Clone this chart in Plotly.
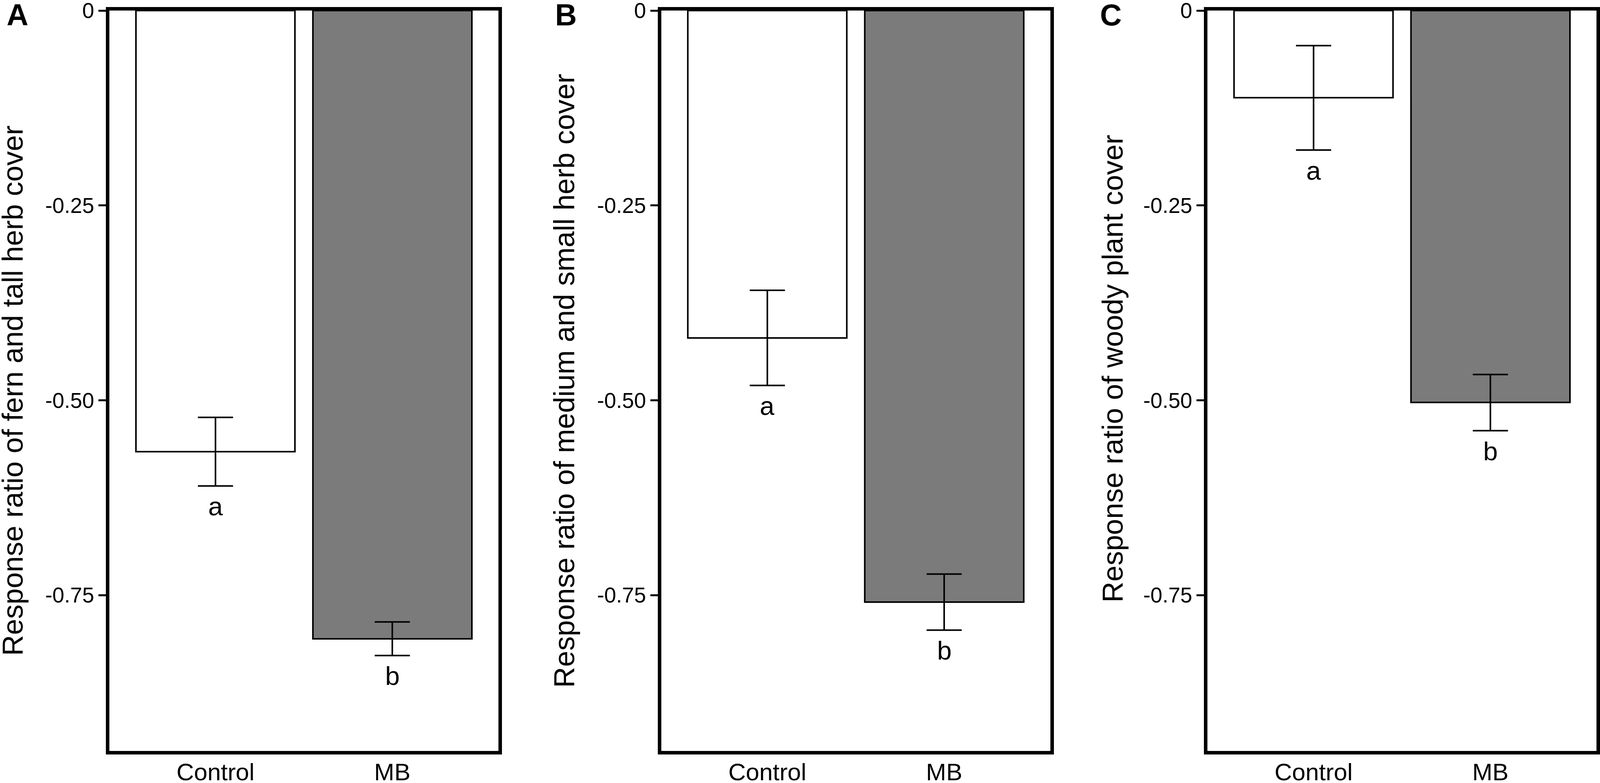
import plotly.graph_objects as go

# data
categories = ["Control", "MB"]
panel_tags = ["A", "B", "C"]
y_titles = [
    "Response ratio of fern and tall herb cover",
    "Response ratio of medium and small herb cover",
    "Response ratio of woody plant cover",
]
means_fern = [-0.566, -0.806]
errs_fern = [0.044, 0.0215]
means_small = [-0.420, -0.759]
errs_small = [0.061, 0.036]
means_woody = [-0.112, -0.503]
errs_woody = [0.067, 0.036]
sig_letters = ["a", "b"]
ytick_vals = [0, -0.25, -0.5, -0.75]
ytick_text = ["0", "-0.25", "-0.50", "-0.75"]

panels = [
    (means_fern, errs_fern),
    (means_small, errs_small),
    (means_woody, errs_woody),
]

# the browser viewport is 4096 wide, positions are kept as fractions of the
# original 4549 x 2004 layout
REF_W, REF_H = 4549, 2004
W, H = 4096, 2004
FONT = "Liberation Sans, Arial, sans-serif"
bar_colors = ["white", "#7b7b7b"]

x_px = [(311, 1417), (1880, 2986), (3433, 4539)]
top_px, bottom_px = 27, 1922
title_px = [(35, 1000), (1605, 975), (3164, 943)]
tag_px = [(17, 38), (1576, 38), (3125, 38)]


def fx(p):
    return p / REF_W


def fy(p):
    return 1 - p / REF_H


fig = go.Figure()
annotations = []

for i, (means, errs) in enumerate(panels):
    n = "" if i == 0 else str(i + 1)
    xs = list(range(len(categories)))
    fig.add_trace(go.Bar(
        x=xs, y=means, width=0.9,
        marker=dict(color=bar_colors, line=dict(color="black", width=4)),
        error_y=dict(type="data", array=errs, color="black", thickness=4, width=45),
        xaxis="x" + n, yaxis="y" + n, showlegend=False,
    ))

    fig.layout["xaxis" + n] = dict(
        domain=[fx(x_px[i][0]), fx(x_px[i][1])],
        anchor="y" + n, range=[-0.6, 1.6],
        tickvals=xs, ticktext=categories, ticks="",
        ticklabelstandoff=-8, ticklabeloverflow="allow", automargin=False,
        showline=True, linecolor="black", linewidth=9, mirror=True,
        showgrid=False, zeroline=False,
        tickfont=dict(family=FONT, size=62, color="black"),
    )
    fig.layout["yaxis" + n] = dict(
        domain=[fy(bottom_px), fy(top_px)],
        anchor="x" + n, range=[-0.95, 0],
        tickvals=ytick_vals, ticktext=ytick_text,
        ticks="outside", ticklen=19, tickwidth=5, tickcolor="black",
        ticklabeloverflow="allow", automargin=False,
        showline=True, linecolor="black", linewidth=9, mirror=True,
        showgrid=False, zeroline=False,
        tickfont=dict(family=FONT, size=55, color="black"),
    )

    # significance letters under the error bars
    for j, letter in enumerate(sig_letters):
        annotations.append(dict(
            x=xs[j], y=means[j] - errs[j], xref="x" + n, yref="y" + n,
            text=letter, showarrow=False, yanchor="middle", yshift=-52,
            font=dict(family=FONT, size=67, color="black"),
        ))

    annotations.append(dict(
        x=fx(title_px[i][0]), y=fy(title_px[i][1]), xref="paper", yref="paper",
        text=y_titles[i], textangle=-90, showarrow=False,
        xanchor="center", yanchor="middle",
        font=dict(family=FONT, size=74, color="black"),
    ))
    annotations.append(dict(
        x=fx(tag_px[i][0]), y=fy(tag_px[i][1]), xref="paper", yref="paper",
        text="<b>" + panel_tags[i] + "</b>", showarrow=False,
        xanchor="left", yanchor="middle",
        font=dict(family=FONT, size=77, color="black"),
    ))

fig.update_layout(
    width=W, height=H,
    margin=dict(l=0, r=0, t=0, b=0),
    paper_bgcolor="white", plot_bgcolor="white",
    annotations=annotations,
    bargap=0,
)

fit_page = (
    "document.body.style.margin='0';"
    "document.body.style.overflow='hidden';"
    "Plotly.relayout('{plot_id}', {width: window.innerWidth, height: window.innerHeight});"
)
fig.write_html("out.html", post_script=fit_page, config={"displayModeBar": False})
